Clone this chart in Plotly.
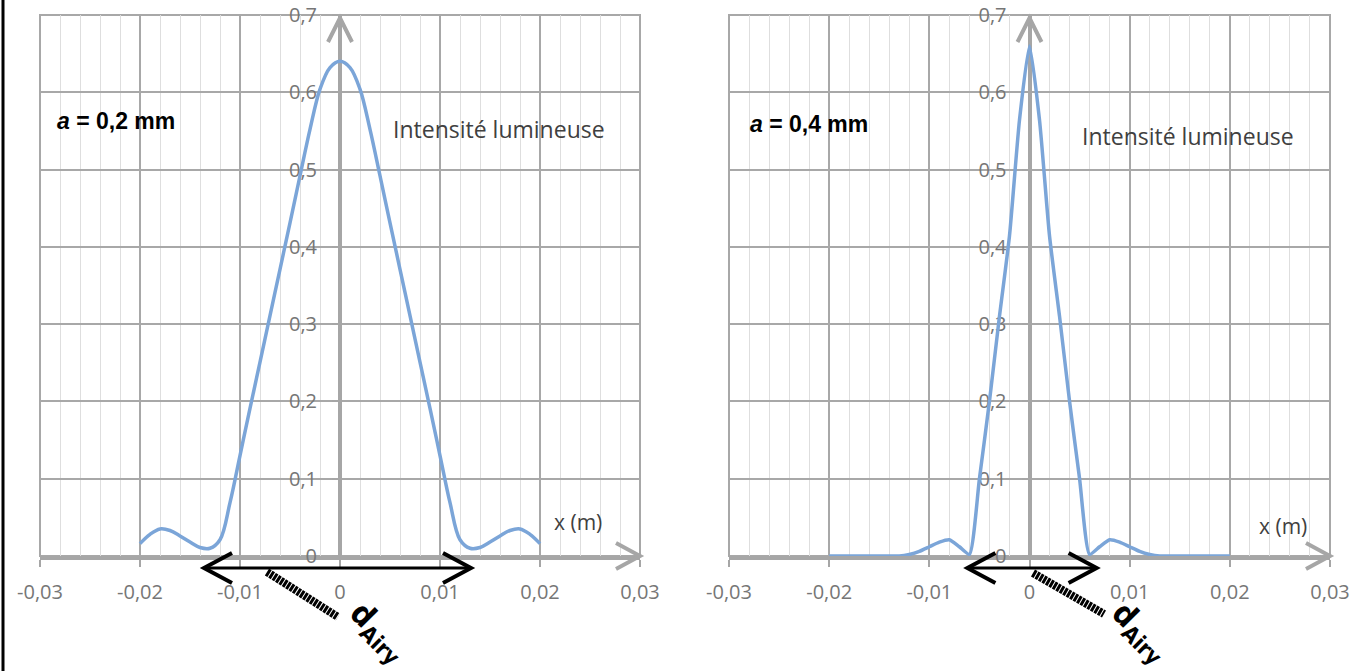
import plotly.graph_objects as go

W, H = 1366, 671

# ---------------- data ----------------
x_m = [-0.020, -0.019, -0.018, -0.017, -0.016, -0.015, -0.014, -0.013, -0.012, -0.011,
       -0.010, -0.009, -0.008, -0.007, -0.006, -0.005, -0.004, -0.003, -0.002, -0.001,
       0.000,
       0.001, 0.002, 0.003, 0.004, 0.005, 0.006, 0.007, 0.008, 0.009, 0.010,
       0.011, 0.012, 0.013, 0.014, 0.015, 0.016, 0.017, 0.018, 0.019, 0.020]

intensity_a02 = [0.016, 0.028, 0.035, 0.033, 0.026, 0.018, 0.011, 0.010, 0.021, 0.069,
                 0.130, 0.191, 0.251, 0.311, 0.371, 0.431, 0.492, 0.552, 0.604, 0.632,
                 0.640,
                 0.632, 0.604, 0.552, 0.492, 0.431, 0.371, 0.311, 0.251, 0.191, 0.130,
                 0.069, 0.021, 0.010, 0.011, 0.018, 0.026, 0.033, 0.035, 0.028, 0.016]

intensity_a04 = [0.000, 0.000, 0.000, 0.000, 0.000, 0.000, 0.000, 0.000, 0.002, 0.006,
                 0.012, 0.018, 0.021, 0.012, 0.002, 0.100, 0.200, 0.310, 0.414, 0.564,
                 0.660,
                 0.564, 0.414, 0.310, 0.200, 0.100, 0.002, 0.012, 0.021, 0.018, 0.012,
                 0.006, 0.002, 0.000, 0.000, 0.000, 0.000, 0.000, 0.000, 0.000, 0.000]

x_tick_vals = [-0.03, -0.02, -0.01, 0, 0.01, 0.02, 0.03]
x_tick_text = ["-0,03", "-0,02", "-0,01", "0", "0,01", "0,02", "0,03"]
y_tick_vals = [0, 0.1, 0.2, 0.3, 0.4, 0.5, 0.6, 0.7]
y_tick_text = ["0", "0,1", "0,2", "0,3", "0,4", "0,5", "0,6", "0,7"]

panel_labels = ["<i>a</i> = 0,2 mm", "<i>a</i> = 0,4 mm"]
curve_label = "Intensité lumineuse"
x_label = "x (m)"
d_airy_label = "d<sub>Airy</sub>"
d_airy_ends = [[-0.0136, 0.0131], [-0.0062, 0.0067]]

# ---------------- style ----------------
X_RANGE = [-0.03, 0.03]
Y_RANGE = [0, 0.7]
X_DOMS = [[40 / W, 640 / W], [729 / W, 1330 / W]]
Y_DOM = [1 - 556 / H, 1 - 15 / H]
GRID = "#a8a8a8"
MINOR = "#dedede"
AXIS = "#a6a6a6"
TICK = "#767676"
CURVE = "#7ba5d8"
FONT = "Open Sans"


def px(xp):
    return xp / W


def py(yp):
    return 1 - yp / H


def zero_pos(dom):
    return dom[0] + (0 - X_RANGE[0]) / (X_RANGE[1] - X_RANGE[0]) * (dom[1] - dom[0])


fig = go.Figure()
for i, (vals, smooth) in enumerate([(intensity_a02, 1.0), (intensity_a04, 0.55)]):
    sfx = "" if i == 0 else "2"
    fig.add_trace(go.Scatter(
        x=x_m, y=vals, mode="lines",
        line=dict(color=CURVE, width=3.5, shape="spline", smoothing=smooth),
        xaxis="x" + sfx, yaxis="y" + sfx, hoverinfo="skip", showlegend=False))

layout_axes = {}
for i, dom in enumerate(X_DOMS):
    sfx = "" if i == 0 else "2"
    layout_axes["xaxis" + sfx] = dict(
        domain=dom, anchor="y" + sfx, range=X_RANGE,
        tickmode="array", tickvals=x_tick_vals, ticktext=x_tick_text,
        showgrid=True, gridcolor=GRID, gridwidth=2,
        minor=dict(tickmode="linear", tick0=0, dtick=0.002, showgrid=True,
                   gridcolor=MINOR, gridwidth=1, ticks=""),
        showline=True, linecolor=AXIS, linewidth=4,
        ticks="outside", ticklen=7, tickwidth=2, tickcolor=AXIS,
        zeroline=False, layer="below traces", automargin=False,
        tickfont=dict(family=FONT, size=20, color=TICK),
        ticklabelstandoff=8, fixedrange=True)
    layout_axes["yaxis" + sfx] = dict(
        domain=Y_DOM, anchor="free", position=zero_pos(dom), range=Y_RANGE,
        tickmode="array", tickvals=y_tick_vals, ticktext=y_tick_text,
        showgrid=True, gridcolor=GRID, gridwidth=2,
        showline=True, linecolor=AXIS, linewidth=4,
        ticks="outside", ticklen=6, tickwidth=2, tickcolor=AXIS,
        zeroline=False, layer="below traces", automargin=False,
        tickfont=dict(family=FONT, size=20, color=TICK),
        ticklabelstandoff=11, fixedrange=True)

shapes = []
annotations = []
for i, dom in enumerate(X_DOMS):
    sfx = "" if i == 0 else "2"
    xz = zero_pos(dom)
    # plot border
    shapes.append(dict(type="rect", xref="paper", yref="paper",
                       x0=dom[0], x1=dom[1], y0=Y_DOM[0], y1=Y_DOM[1],
                       line=dict(color=GRID, width=2), layer="below"))
    # axis arrow heads
    shapes.append(dict(type="path", xref="paper", yref="paper", xsizemode="pixel",
                       ysizemode="pixel", xanchor=dom[1], yanchor=Y_DOM[0],
                       path="M -24,13 L 0,0 L -24,-13",
                       line=dict(color=AXIS, width=4)))
    shapes.append(dict(type="path", xref="paper", yref="paper", xsizemode="pixel",
                       ysizemode="pixel", xanchor=xz, yanchor=Y_DOM[1] - 3 / H,
                       path="M -12,-24 L 0,0 L 12,-24",
                       line=dict(color=AXIS, width=4)))
    # d_Airy double arrow
    xa, xb = d_airy_ends[i]
    ya = py(568)
    shapes.append(dict(type="line", xref="x" + sfx, yref="paper", x0=xa, x1=xb,
                       y0=ya, y1=ya, line=dict(color="black", width=3)))
    shapes.append(dict(type="path", xref="x" + sfx, yref="paper", xsizemode="pixel",
                       ysizemode="pixel", xanchor=xa, yanchor=ya,
                       path="M 28,15 L 0,0 L 28,-15", line=dict(color="black", width=4)))
    shapes.append(dict(type="path", xref="x" + sfx, yref="paper", xsizemode="pixel",
                       ysizemode="pixel", xanchor=xb, yanchor=ya,
                       path="M -28,15 L 0,0 L -28,-15", line=dict(color="black", width=4)))

# dashed leader lines towards the d_Airy label
leaders = [((267, 572), (338, 617)), ((1033, 573), (1104, 614))]
for (x0, y0), (x1, y1) in leaders:
    shapes.append(dict(type="line", xref="paper", yref="paper", x0=px(x0), y0=py(y0),
                       x1=px(x1), y1=py(y1),
                       line=dict(color="black", width=8, dash="3px,1px")))

# frame line at left edge
shapes.append(dict(type="line", xref="paper", yref="paper", x0=px(3), x1=px(3),
                   y0=0, y1=1, line=dict(color="black", width=3)))

label_pos = [
    dict(panel=(55, 121), curve=(499, 129), xl=(578, 522), d=(378, 632)),
    dict(panel=(748, 124), curve=(1188, 136), xl=(1283, 526), d=(1140, 632)),
]
for i, lp in enumerate(label_pos):
    annotations.append(dict(xref="paper", yref="paper", x=px(lp["panel"][0]),
                            y=py(lp["panel"][1]), xanchor="left", yanchor="middle",
                            text="<b>%s</b>" % panel_labels[i], showarrow=False,
                            font=dict(family="Liberation Sans", size=23, color="black")))
    annotations.append(dict(xref="paper", yref="paper", x=px(lp["curve"][0]),
                            y=py(lp["curve"][1]), xanchor="center", yanchor="middle",
                            text=curve_label, showarrow=False,
                            font=dict(family=FONT, size=23, color="#404040")))
    annotations.append(dict(xref="paper", yref="paper", x=px(lp["xl"][0]),
                            y=py(lp["xl"][1]), xanchor="center", yanchor="middle",
                            text=x_label, showarrow=False,
                            font=dict(family=FONT, size=21, color="#404040")))
    annotations.append(dict(xref="paper", yref="paper", x=px(lp["d"][0]),
                            y=py(lp["d"][1]), xanchor="center", yanchor="middle",
                            text="<b>%s</b>" % d_airy_label, showarrow=False, textangle=45,
                            font=dict(family="Liberation Sans Narrow, DejaVu Sans Condensed, Liberation Sans",
                                      size=32, color="black")))

fig.update_layout(
    width=W, height=H,
    margin=dict(l=0, r=0, t=0, b=0, pad=0, autoexpand=False),
    paper_bgcolor="white", plot_bgcolor="white",
    font=dict(family=FONT),
    shapes=shapes, annotations=annotations, showlegend=False,
    **layout_axes)

fig.write_html("out.html", config={"displayModeBar": False},
               post_script="document.body.style.margin='0';document.body.style.padding='0';")
